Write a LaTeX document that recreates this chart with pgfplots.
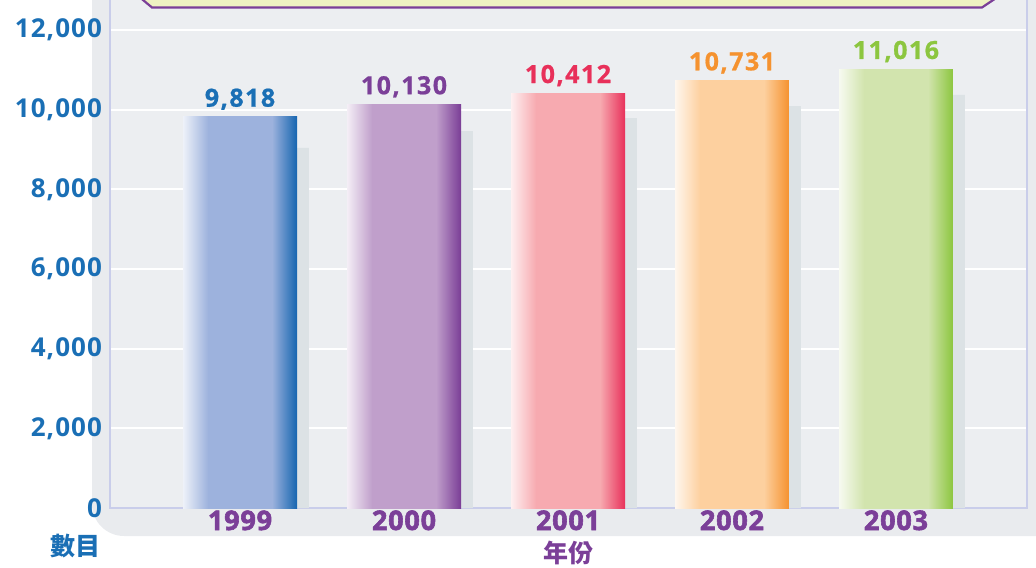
\documentclass[border=0pt]{standalone}
\usepackage{pgfplots}
\pgfplotsset{compat=1.18}
\usepackage{fontspec}
\setmainfont{Open Sans}
\newfontfamily\cjk{Noto Sans CJK TC}
\newfontfamily\valfont{Open Sans}[LetterSpace=6, BoldFeatures={RawFeature={embolden=0.8}}]
\newfontfamily\tickfont{Open Sans}[LetterSpace=4]
\newfontfamily\yearfont{Open Sans}[LetterSpace=3, BoldFeatures={RawFeature={embolden=2.2}}]

\definecolor{tblue}{HTML}{1A6FB5}
\definecolor{tpurple}{HTML}{7B3F98}
\definecolor{tred}{HTML}{E8305A}
\definecolor{torange}{HTML}{F5922F}
\definecolor{tgreen}{HTML}{8CC63F}
\definecolor{panel}{HTML}{E9EBEE}
\definecolor{shadowc}{HTML}{DCE2E5}
\definecolor{frame}{HTML}{C9CDEA}
\definecolor{titlefill}{HTML}{EFF2C2}

\definecolor{aM}{HTML}{9DB2DD}\definecolor{aD}{HTML}{1565B0}
\definecolor{bM}{HTML}{C09FCB}\definecolor{bD}{HTML}{7A3D96}
\definecolor{cM}{HTML}{F7AAB0}\definecolor{cD}{HTML}{E8305A}
\definecolor{dM}{HTML}{FDD09F}\definecolor{dD}{HTML}{F5922F}
\definecolor{eM}{HTML}{D2E4AE}\definecolor{eD}{HTML}{8CC63F}
\colorlet{aL}{aM!18!white}\colorlet{bL}{bM!18!white}\colorlet{cL}{cM!18!white}
\colorlet{dL}{dM!18!white}\colorlet{eL}{eM!18!white}

\pgfdeclarehorizontalshading{shA}{100bp}{color(0bp)=(aL); color(25bp)=(aL); color(36bp)=(aM); color(64bp)=(aM); color(75bp)=(aD); color(100bp)=(aD)}
\pgfdeclarehorizontalshading{shB}{100bp}{color(0bp)=(bL); color(25bp)=(bL); color(36bp)=(bM); color(64bp)=(bM); color(75bp)=(bD); color(100bp)=(bD)}
\pgfdeclarehorizontalshading{shC}{100bp}{color(0bp)=(cL); color(25bp)=(cL); color(36bp)=(cM); color(64bp)=(cM); color(75bp)=(cD); color(100bp)=(cD)}
\pgfdeclarehorizontalshading{shD}{100bp}{color(0bp)=(dL); color(25bp)=(dL); color(36bp)=(dM); color(64bp)=(dM); color(75bp)=(dD); color(100bp)=(dD)}
\pgfdeclarehorizontalshading{shE}{100bp}{color(0bp)=(eL); color(25bp)=(eL); color(36bp)=(eM); color(64bp)=(eM); color(75bp)=(eD); color(100bp)=(eD)}

\begin{document}
\begin{tikzpicture}
\path[use as bounding box] (0,0) rectangle (518pt,283.5pt);
\clip (0,0) rectangle (518pt,283.5pt);
\begin{scope}[shift={(0pt,283.5pt)},x=0.5pt,y=-0.5pt]
  \fill[panel, rounded corners=16pt] (92,-60) rectangle (1070,536);
\end{scope}
\begin{axis}[
  at={(55pt,29.5pt)}, anchor=south west,
  scale only axis, width=458.5pt, height=255.5pt,
  xmin=-0.793, xmax=4.799, ymin=0, ymax=12830,
  ybar, bar width=0.695, bar shift=0pt,
  axis background/.style={fill=panel!85!white},
  axis line style={draw=frame, line width=0.9pt},
  major tick length=0pt,
  xtick={0,1,2,3,4}, xticklabels={1999,2000,2001,2002,2003},
  ytick={0,2000,4000,6000,8000,10000,12000},
  scaled y ticks=false,
  /pgf/number format/.cd, 1000 sep={,}, assume math mode=true, /pgfplots/.cd,
  ymajorgrids, grid style={white, line width=1.1pt},
  yticklabel style={font=\tickfont\bfseries\fontsize{13}{13}\selectfont, color=tblue, anchor=east, xshift=-0.5pt},
  xticklabel style={font=\yearfont\bfseries\fontsize{13.5}{13.5}\selectfont, color=tpurple, anchor=base, yshift=-11pt},
  every node near coord/.append style={font=\valfont\bfseries\fontsize{12.5}{12.5}\selectfont},
]
\addplot[bar shift=0pt, fill=shadowc, draw=none] coordinates {(0.073,9040) (1.073,9465) (2.073,9790) (3.073,10090) (4.073,10370)};
\addplot[bar shift=0pt, draw=none, shade, shading=shA, nodes near coords, every node near coord/.append style={color=tblue}] coordinates {(0,9818)};
\addplot[bar shift=0pt, draw=none, shade, shading=shB, nodes near coords, every node near coord/.append style={color=tpurple}] coordinates {(1,10130)};
\addplot[bar shift=0pt, draw=none, shade, shading=shC, nodes near coords, every node near coord/.append style={color=tred}] coordinates {(2,10412)};
\addplot[bar shift=0pt, draw=none, shade, shading=shD, nodes near coords, every node near coord/.append style={color=torange}] coordinates {(3,10731)};
\addplot[bar shift=0pt, draw=none, shade, shading=shE, nodes near coords, every node near coord/.append style={color=tgreen}] coordinates {(4,11016)};
\end{axis}
\begin{scope}[shift={(0pt,283.5pt)},x=0.5pt,y=-0.5pt]
  \draw[fill=titlefill, draw=tpurple, line width=1.1pt] (131,-10) -- (152,7.5) -- (982,7.5) -- (1008,-10);
  \node[font=\cjk\bfseries\fontsize{12.5}{12.5}\selectfont, text=tblue] at (75,546) {數目};
  \node[font=\cjk\bfseries\fontsize{12.5}{12.5}\selectfont, text=tpurple] at (568,553) {年份};
\end{scope}
\end{tikzpicture}
\end{document}
